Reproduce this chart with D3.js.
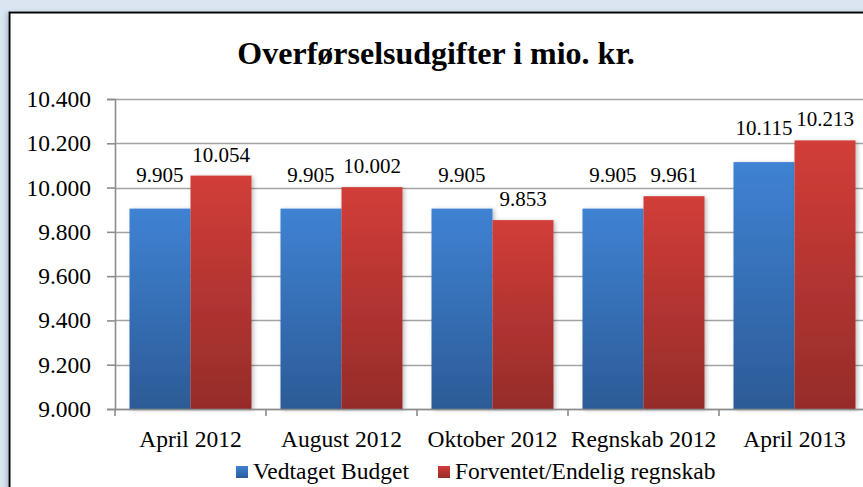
<!DOCTYPE html>
<html>
<head>
<meta charset="utf-8">
<script src="https://cdn.jsdelivr.net/npm/d3@7"></script>
<style>
  html, body { margin: 0; padding: 0; background: #dbe5f1; }
  svg { display: block; }
  text { font-family: "Liberation Serif", "Times New Roman", serif; fill: #000; }
</style>
</head>
<body>
<svg id="chart" width="863" height="487"></svg>
<script>
const title = "Overførselsudgifter i mio. kr.";
const categories = ["April 2012", "August 2012", "Oktober 2012", "Regnskab 2012", "April 2013"];
const seriesNames = ["Vedtaget Budget", "Forventet/Endelig regnskab"];
const budgetValues = [9905, 9905, 9905, 9905, 10115];
const forecastValues = [10054, 10002, 9853, 9961, 10213];
const yTicks = [9000, 9200, 9400, 9600, 9800, 10000, 10200, 10400];

const svg = d3.select("#chart");
const W = 863, H = 487;

const locale = d3.formatLocale({decimal: ",", thousands: ".", grouping: [3], currency: ["", " kr."]});
const fmt = locale.format(",d");

// defs: gradients + shadow
const defs = svg.append("defs");
const gradSpecs = [
  {id: "gBlue", top: "#3f82d3", bottom: "#2c5b97"},
  {id: "gRed", top: "#d23d39", bottom: "#952c29"}
];
gradSpecs.forEach(g => {
  const lg = defs.append("linearGradient").attr("id", g.id)
    .attr("x1", 0).attr("y1", 0).attr("x2", 0).attr("y2", 1);
  lg.append("stop").attr("offset", "0%").attr("stop-color", g.top);
  lg.append("stop").attr("offset", "100%").attr("stop-color", g.bottom);
});
const f = defs.append("filter").attr("id", "shadow")
  .attr("x", "-20%").attr("y", "-10%").attr("width", "150%").attr("height", "130%");
f.append("feDropShadow").attr("dx", 2).attr("dy", 1).attr("stdDeviation", 2)
  .attr("flood-color", "#000").attr("flood-opacity", 0.25);
const fs = defs.append("filter").attr("id", "boxShadow")
  .attr("x", "-5%").attr("y", "-5%").attr("width", "110%").attr("height", "110%");
fs.append("feDropShadow").attr("dx", -2).attr("dy", 1).attr("stdDeviation", 2)
  .attr("flood-color", "#7f8fa6").attr("flood-opacity", 0.5);

// chart box
svg.append("rect")
  .attr("x", 9.5).attr("y", 12.5).attr("width", 900).attr("height", 520)
  .attr("fill", "#fff").attr("stroke", "#000").attr("stroke-width", 2)
  .attr("filter", "url(#boxShadow)");

// title
svg.append("text")
  .attr("x", 436).attr("y", 64)
  .attr("text-anchor", "middle")
  .attr("font-size", 32).attr("font-weight", "bold")
  .text(title);

const plot = {left: 115, right: 870, top: 99, bottom: 409};

const y = d3.scaleLinear().domain([9000, 10400]).range([plot.bottom, plot.top]);
const x0 = d3.scaleBand().domain(categories).range([plot.left, plot.right]).padding(0);
const x1 = d3.scaleBand().domain(seriesNames).range([0, x0.bandwidth()])
  .paddingInner(0).paddingOuter(0.2377);

// gridlines
svg.append("g").selectAll("line").data(yTicks).join("line")
  .attr("x1", plot.left).attr("x2", W + 10)
  .attr("y1", d => Math.round(y(d)) + 0.5).attr("y2", d => Math.round(y(d)) + 0.5)
  .attr("stroke", "#a3a3a3").attr("stroke-width", 1.6);

// y axis
const yAxis = d3.axisLeft(y).tickValues(yTicks).tickFormat(fmt).tickSize(8).tickPadding(16);
const gy = svg.append("g").attr("transform", `translate(${plot.left},0)`).call(yAxis);
gy.select(".domain").attr("stroke", "#8c8c8c").attr("stroke-width", 1.6);
gy.selectAll(".tick line").attr("stroke", "#8c8c8c").attr("stroke-width", 1.6);
gy.selectAll(".tick text").attr("font-family", "Liberation Serif, serif").attr("font-size", 23.5).attr("fill", "#000");

// bars
const series = [
  {name: seriesNames[0], values: budgetValues, fill: "url(#gBlue)", lift: 27},
  {name: seriesNames[1], values: forecastValues, fill: "url(#gRed)", lift: 14}
];
const barData = [];
categories.forEach((c, i) => series.forEach(s => barData.push({cat: c, s: s, v: s.values[i]})));

svg.append("g").selectAll("rect").data(barData).join("rect")
  .attr("x", d => x0(d.cat) + x1(d.s.name))
  .attr("y", d => y(d.v))
  .attr("width", x1.bandwidth())
  .attr("height", d => y(9000) - y(d.v))
  .attr("fill", d => d.s.fill)
  .attr("filter", "url(#shadow)");

// x axis
const xAxisLine = svg.append("g");
xAxisLine.append("line")
  .attr("x1", plot.left).attr("x2", W + 10)
  .attr("y1", plot.bottom + 0.5).attr("y2", plot.bottom + 0.5)
  .attr("stroke", "#8c8c8c").attr("stroke-width", 1.6);
const boundaries = categories.map(c => x0(c)).concat([plot.right]);
xAxisLine.selectAll("line.tk").data(boundaries).join("line").attr("class", "tk")
  .attr("x1", d => d).attr("x2", d => d)
  .attr("y1", plot.bottom).attr("y2", plot.bottom + 7)
  .attr("stroke", "#8c8c8c").attr("stroke-width", 1.6);
svg.append("g").selectAll("text").data(categories).join("text")
  .attr("x", d => x0(d) + x0.bandwidth() / 2)
  .attr("y", 447)
  .attr("text-anchor", "middle")
  .attr("font-size", 23.5)
  .text(d => d);

// data labels
svg.append("g").selectAll("text").data(barData).join("text")
  .attr("x", d => x0(d.cat) + x1(d.s.name) + x1.bandwidth() / 2)
  .attr("y", d => y(d.v) - d.s.lift)
  .attr("text-anchor", "middle")
  .attr("font-size", 21)
  .text(d => fmt(d.v));

// legend
const legend = svg.append("g");
const legendItems = [
  {name: seriesNames[0], fill: "url(#gBlue)", x: 236},
  {name: seriesNames[1], fill: "url(#gRed)", x: 438}
];
legendItems.forEach(it => {
  legend.append("rect").attr("x", it.x).attr("y", 466).attr("width", 12).attr("height", 12)
    .attr("fill", it.fill);
  legend.append("text").attr("x", it.x + 17).attr("y", 479)
    .attr("font-size", 23.5).text(it.name);
});
</script>
</body>
</html>
